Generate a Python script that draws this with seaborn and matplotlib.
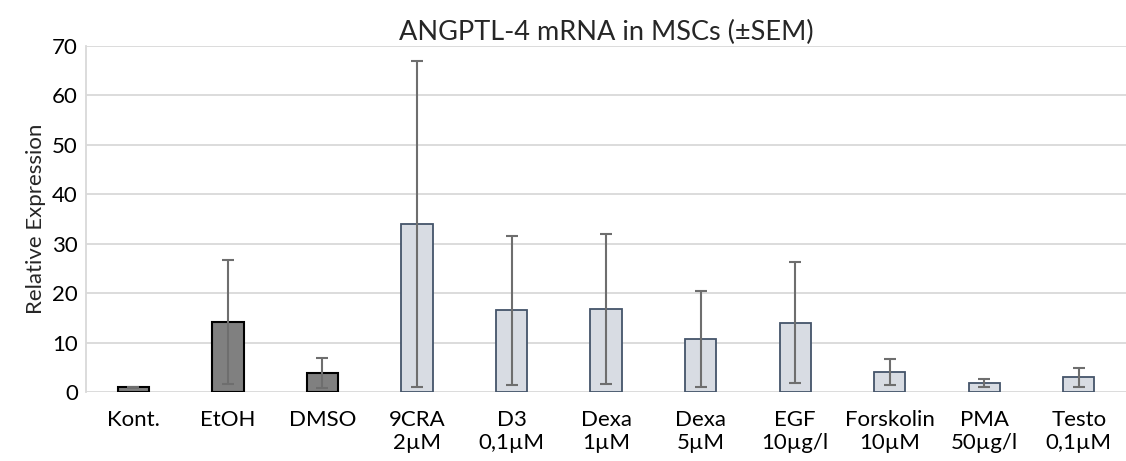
import matplotlib
matplotlib.use("Agg")
import matplotlib.pyplot as plt
import seaborn as sns
import pandas as pd

categories = ["Kont.", "EtOH", "DMSO", "9CRA\n2µM", "D3\n0,1µM", "Dexa\n1µM",
              "Dexa\n5µM", "EGF\n10µg/l", "Forskolin\n10µM", "PMA\n50µg/l", "Testo\n0,1µM"]
values = [1.0, 14.2, 3.8, 34.0, 16.5, 16.8, 10.8, 14.0, 4.1, 1.9, 3.0]
sem = [0.1, 12.5, 3.0, 33.0, 15.1, 15.2, 9.7, 12.2, 2.6, 0.8, 1.9]
groups = ["ctrl", "ctrl", "ctrl"] + ["treat"] * 8

sns.set_theme(style="white")
plt.rcParams["font.family"] = ["Lato", "DejaVu Sans"]

df = pd.DataFrame({"cat": categories, "val": values, "grp": groups})
fill = {"ctrl": "#808080", "treat": "#D6DCE5"}
edge = {"ctrl": "#000000", "treat": "#44546A"}

fig = plt.figure(figsize=(11.26, 4.61), dpi=100)
ax = fig.add_axes([0.0765, 0.1497, 0.9235, 0.7505])

sns.barplot(data=df, x="cat", y="val", hue="grp", palette=fill, dodge=False,
            width=0.33, legend=False, ax=ax, errorbar=None, linewidth=1.5)
for patch, g in zip(ax.patches, groups):
    patch.set_edgecolor(edge[g])
    patch.set_linewidth(1.5 if g == "ctrl" else 1.3)

ax.errorbar(range(len(categories)), values, yerr=sem, fmt="none",
            ecolor="#6E6E6E", elinewidth=1.5, capsize=4.5, capthick=1.5, zorder=5)

ax.set_ylim(0, 70)
ax.set_yticks(range(0, 71, 10))
ax.set_xlim(-0.5, len(categories) - 0.5)
ax.grid(axis="y", color="#D9D9D9", linewidth=1.3)
ax.set_axisbelow(True)
for s in ["top", "right", "bottom"]:
    ax.spines[s].set_visible(False)
ax.spines["left"].set_color("#D9D9D9")
ax.spines["left"].set_linewidth(1.3)
ax.tick_params(axis="both", length=0, labelsize=16, colors="#000000", pad=6)
ax.tick_params(axis="x", pad=13)
ax.set_xlabel("")
ax.set_ylabel("Relative Expression", fontsize=16, labelpad=4)
ax.set_title("ANGPTL-4 mRNA in MSCs (±SEM)", fontsize=19.5, pad=4)

fig.savefig("out.png", dpi=100)
